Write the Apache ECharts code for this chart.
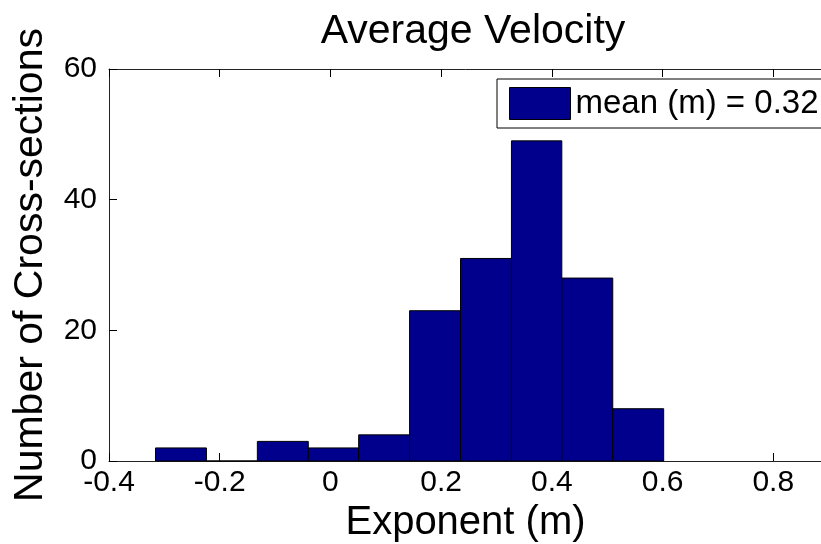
<!DOCTYPE html>
<html>
<head>
<meta charset="utf-8">
<script src="https://cdn.jsdelivr.net/npm/echarts@6/dist/echarts.min.js"></script>
<style>
  html, body { margin: 0; padding: 0; background: #fff; }
  #chart { width: 821px; height: 544px; }
</style>
</head>
<body>
<div id="chart"></div>
<script>
// Histogram bins: edges (exponent m) and the count of cross-sections in each bin
const binEdges = [-0.316, -0.224, -0.132, -0.040, 0.051, 0.143, 0.235, 0.327, 0.418, 0.510, 0.602];
const counts = [2, 0, 3, 2, 4, 23, 31, 49, 28, 8];
const seriesName = 'mean (m) = 0.32';
const xRange = [-0.4, 0.888];
const yRange = [0, 60];

const bins = counts.map((c, i) => [binEdges[i], binEdges[i + 1], c]);

const FONT = 'Liberation Sans, Arial, sans-serif';
const chart = echarts.init(document.getElementById('chart'), null, { renderer: 'canvas' });

const tickStyle = { show: true, inside: true, length: 8, lineStyle: { color: '#000', width: 1 } };
const lineStyle = { show: true, onZero: false, lineStyle: { color: '#222', width: 1 } };

chart.setOption({
  animation: false,
  backgroundColor: '#fff',
  title: {
    text: 'Average Velocity',
    left: 468,
    textAlign: 'center',
    top: 6,
    textStyle: { fontFamily: FONT, fontSize: 41, fontWeight: 'normal', color: '#000' }
  },
  legend: {
    data: [seriesName],
    left: 497,
    top: 79,
    icon: 'rect',
    itemWidth: 61,
    itemHeight: 32,
    padding: [8, 30, 8, 12],
    backgroundColor: '#fff',
    borderColor: '#000',
    borderWidth: 1,
    itemStyle: { borderColor: '#000', borderWidth: 1 },
    textStyle: { fontFamily: FONT, fontSize: 33, color: '#000' }
  },
  grid: { left: 109, top: 69, width: 713, height: 392, containLabel: false, outerBoundsMode: 'none' },
  xAxis: [
    {
      type: 'value',
      min: xRange[0],
      max: xRange[1],
      interval: 0.2,
      position: 'bottom',
      name: 'Exponent (m)',
      nameLocation: 'middle',
      nameGap: 30,
      nameTextStyle: { fontFamily: FONT, fontSize: 40, color: '#000', verticalAlign: 'top' },
      axisLine: lineStyle,
      axisTick: tickStyle,
      splitLine: { show: false },
      axisLabel: {
        showMaxLabel: false,
        margin: 7,
        fontFamily: FONT, fontSize: 30, color: '#000'
      }
    },
    {
      type: 'value',
      min: xRange[0],
      max: xRange[1],
      interval: 0.2,
      position: 'top',
      axisLine: lineStyle,
      axisTick: tickStyle,
      splitLine: { show: false },
      axisLabel: { show: false }
    }
  ],
  yAxis: {
    type: 'value',
    min: yRange[0],
    max: yRange[1],
    interval: 20,
    name: 'Number of Cross-sections',
    nameLocation: 'middle',
    nameGap: 58,
    nameTextStyle: { fontFamily: FONT, fontSize: 41, color: '#000' },
    axisLine: lineStyle,
    axisTick: tickStyle,
    splitLine: { show: false },
    axisLabel: { margin: 12, fontFamily: FONT, fontSize: 30, color: '#000' }
  },
  series: [{
    name: seriesName,
    type: 'custom',
    xAxisIndex: 0,
    itemStyle: { color: '#00008C', borderColor: '#000', borderWidth: 1 },
    encode: { x: [0, 1], y: 2 },
    data: bins,
    renderItem: function (params, api) {
      const p0 = api.coord([api.value(0), 0]);
      const p1 = api.coord([api.value(1), api.value(2)]);
      return {
        type: 'rect',
        shape: { x: p0[0], y: p1[1], width: p1[0] - p0[0], height: p0[1] - p1[1] },
        style: { fill: '#00008C', stroke: '#000', lineWidth: 1 }
      };
    }
  }]
});
</script>
</body>
</html>
